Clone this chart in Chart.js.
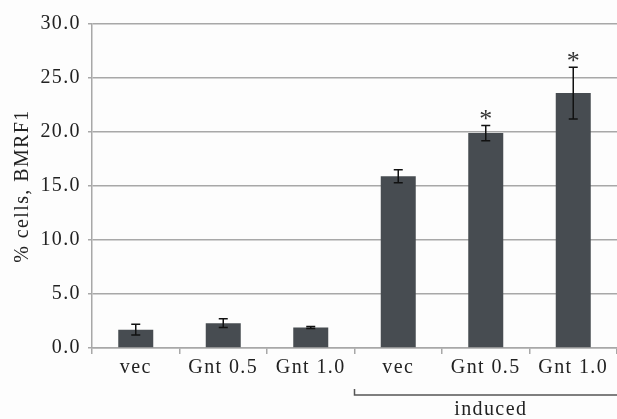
<!DOCTYPE html>
<html>
<head>
<meta charset="utf-8">
<script src="https://cdn.jsdelivr.net/npm/chart.js@4.4.1/dist/chart.umd.min.js"></script>
<style>
  html, body { margin: 0; padding: 0; background: #fdfdfd; }
  #wrap { width: 617px; height: 419px; }
</style>
</head>
<body>
<div id="wrap"><canvas id="myChart" width="617" height="419"></canvas></div>
<script>
var labels = ['vec', 'Gnt 0.5', 'Gnt 1.0', 'vec', 'Gnt 0.5', 'Gnt 1.0'];
var values = [1.7, 2.3, 1.9, 15.9, 19.9, 23.6];
var errors = [0.5, 0.4, 0.1, 0.6, 0.7, 2.4];
var stars = ['', '', '', '', '*', '*'];
var yTicks = [0, 5, 10, 15, 20, 25, 30];
var groupLabel = 'induced';
var groupStart = 3; // first category of the induced group

var serif = '"Liberation Serif", "DejaVu Serif", serif';
var tracking = '1.4px';

// wider letter spacing like the original figure
var spacing = {
    id: 'spacing',
    beforeLayout: function (chart) { chart.ctx.letterSpacing = tracking; },
    beforeDraw: function (chart) { chart.ctx.letterSpacing = tracking; }
};

// error bars, asterisks and the "induced" bracket
var extras = {
    id: 'extras',
    afterDatasetsDraw: function (chart) {
        var ctx = chart.ctx;
        var y = chart.scales.y;
        var x = chart.scales.x;
        var meta = chart.getDatasetMeta(0);
        ctx.save();
        ctx.strokeStyle = '#111';
        ctx.lineWidth = 1.5;
        for (var i = 0; i < values.length; i++) {
            var bx = meta.data[i].x;
            var top = y.getPixelForValue(values[i] + errors[i]);
            var bot = y.getPixelForValue(values[i] - errors[i]);
            ctx.beginPath();
            ctx.moveTo(bx, top); ctx.lineTo(bx, bot);
            ctx.moveTo(bx - 4.5, top); ctx.lineTo(bx + 4.5, top);
            ctx.moveTo(bx - 4.5, bot); ctx.lineTo(bx + 4.5, bot);
            ctx.stroke();
            if (stars[i]) {
                ctx.letterSpacing = '0px';
                ctx.fillStyle = '#333';
                ctx.font = '26px ' + serif;
                ctx.textAlign = 'center';
                ctx.textBaseline = 'middle';
                ctx.fillText(stars[i], bx, top - 5);
            }
        }
        // bracket under the induced group
        var half = (x.getPixelForValue(1) - x.getPixelForValue(0)) / 2;
        var left = x.getPixelForValue(groupStart) - half;
        var right = chart.width;
        var ly = 395;
        ctx.strokeStyle = '#555';
        ctx.lineWidth = 1.5;
        ctx.beginPath();
        ctx.moveTo(left, ly - 6); ctx.lineTo(left, ly); ctx.lineTo(right, ly);
        ctx.stroke();
        ctx.letterSpacing = tracking;
        ctx.fillStyle = '#222';
        ctx.font = '20px ' + serif;
        ctx.textAlign = 'center';
        ctx.textBaseline = 'middle';
        ctx.fillText(groupLabel, (left + right) / 2 + 5, ly + 15);
        ctx.restore();
    }
};

var ctx = document.getElementById('myChart').getContext('2d');
var myChart = new Chart(ctx, {
    type: 'bar',
    data: {
        labels: labels,
        datasets: [
            {
                label: '% cells',
                backgroundColor: '#474c51',
                data: values,
                barPercentage: 0.4,
                categoryPercentage: 1.0
            }
        ]
    },
    options: {
        responsive: false,
        animation: false,
        layout: { padding: { top: 24, right: 0, bottom: 0, left: 0 } },
        plugins: {
            legend: { display: false },
            tooltip: { enabled: false }
        },
        scales: {
            y: {
                min: 0,
                max: 30,
                afterBuildTicks: function (scale) {
                    scale.ticks = yTicks.map(function (v) { return { value: v }; });
                },
                afterFit: function (scale) { scale.width = 92; },
                ticks: {
                    color: '#222',
                    padding: 7,
                    font: { family: serif, size: 20 },
                    callback: function (value) { return value.toFixed(1); }
                },
                grid: {
                    color: '#a8a8a8',
                    lineWidth: 1.5,
                    tickLength: 4
                },
                border: { color: '#a8a8a8', width: 1.5 },
                title: {
                    display: true,
                    text: '% cells, BMRF1',
                    color: '#222',
                    font: { family: serif, size: 20 },
                    padding: { top: 11, bottom: 0 }
                }
            },
            x: {
                afterFit: function (scale) { scale.height = 71; },
                ticks: {
                    color: '#222',
                    padding: 2,
                    font: { family: serif, size: 20 }
                },
                grid: {
                    offset: true,
                    drawOnChartArea: false,
                    color: '#a8a8a8',
                    lineWidth: 1.5,
                    tickLength: 6
                },
                border: { color: '#a8a8a8', width: 1.5 }
            }
        }
    },
    plugins: [spacing, extras]
});
</script>
</body>
</html>
